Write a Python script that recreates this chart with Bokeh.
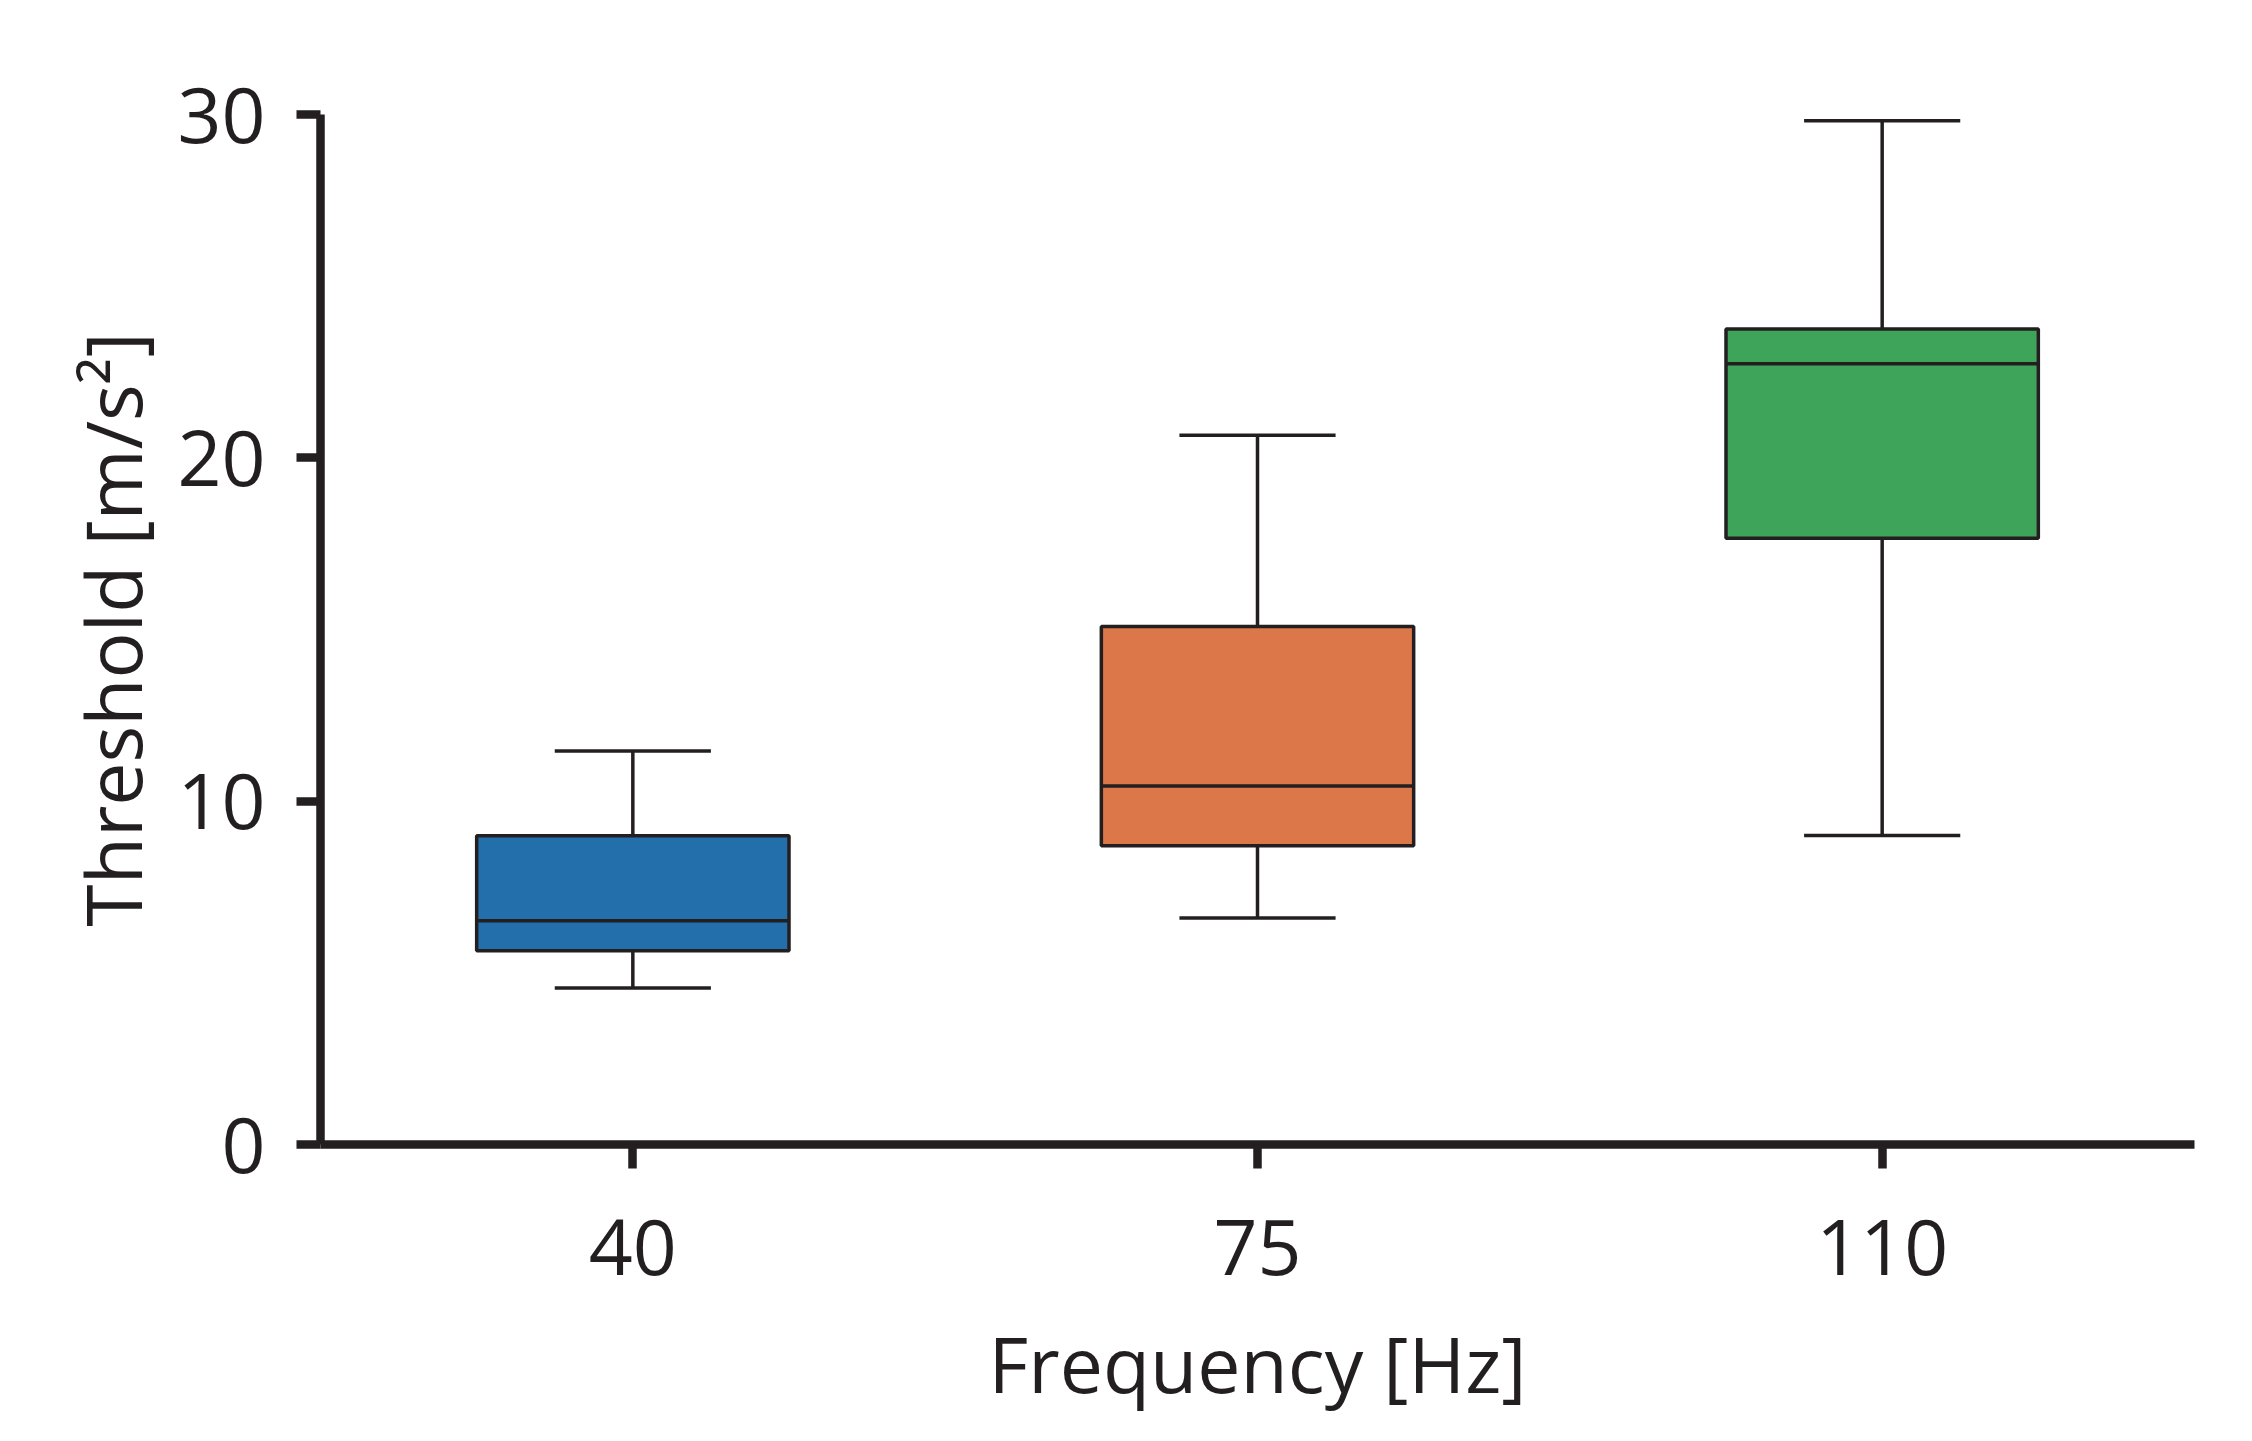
from bokeh.plotting import figure
from bokeh.models import FactorRange, Range1d, FixedTicker
from bokeh.embed import file_html
from bokeh.resources import INLINE

# Data
categories = ["40", "75", "110"]
whisker_low = [4.56, 6.60, 9.00]
q1 = [5.64, 8.70, 17.66]
median = [6.52, 10.44, 22.74]
q3 = [8.99, 15.09, 23.75]
whisker_high = [11.46, 20.66, 29.82]
box_colors = ["#236fab", "#db7748", "#3ea45a"]
y_ticks = [0, 10, 20, 30]

INK = "#231f20"
FONT = "Open Sans"

p = figure(
    width=2236, height=1420,
    x_range=FactorRange(*categories, range_padding=0),
    y_range=Range1d(0, 30),
    output_backend="svg", toolbar_location=None,
    min_border_left=320, min_border_right=42,
    min_border_top=114, min_border_bottom=276,
)
p.outline_line_color = None
p.xgrid.grid_line_color = None
p.ygrid.grid_line_color = None
p.background_fill_color = "white"
p.border_fill_color = "white"

# whiskers (vertical stems)
p.segment(x0=categories, y0=q3, x1=categories, y1=whisker_high, line_color=INK, line_width=3.5)
p.segment(x0=categories, y0=whisker_low, x1=categories, y1=q1, line_color=INK, line_width=3.5)
# caps
left_cap = [(c, -0.125) for c in categories]
right_cap = [(c, 0.125) for c in categories]
p.segment(x0=left_cap, y0=whisker_high, x1=right_cap, y1=whisker_high, line_color=INK, line_width=3.5)
p.segment(x0=left_cap, y0=whisker_low, x1=right_cap, y1=whisker_low, line_color=INK, line_width=3.5)
# boxes
p.vbar(x=categories, bottom=q1, top=q3, width=0.5, fill_color=box_colors,
       line_color=INK, line_width=3.5)
# medians
left_med = [(c, -0.25) for c in categories]
right_med = [(c, 0.25) for c in categories]
p.segment(x0=left_med, y0=median, x1=right_med, y1=median, line_color=INK, line_width=3.5)

for ax in (p.xaxis[0], p.yaxis[0]):
    ax.axis_line_color = INK
    ax.axis_line_width = 8.5
    ax.major_tick_line_color = INK
    ax.major_tick_line_width = 8.5
    ax.major_tick_in = 0
    ax.major_tick_out = 24
    ax.minor_tick_line_color = None
    ax.major_label_text_font = FONT
    ax.major_label_text_font_size = "77px"
    ax.major_label_text_color = INK
    ax.axis_label_text_font = FONT
    ax.axis_label_text_font_size = "77px"
    ax.axis_label_text_font_style = "normal"
    ax.axis_label_text_color = INK

p.yaxis.ticker = FixedTicker(ticks=y_ticks)
p.yaxis.major_label_standoff = 31
p.yaxis.axis_label = "Threshold [m/s²]"
p.yaxis.axis_label_standoff = 9

p.xaxis.major_label_standoff = 50
p.xaxis.axis_label = "Frequency [Hz]"
p.xaxis.axis_label_standoff = 33

open("out.html", "w").write(file_html(p, INLINE))
